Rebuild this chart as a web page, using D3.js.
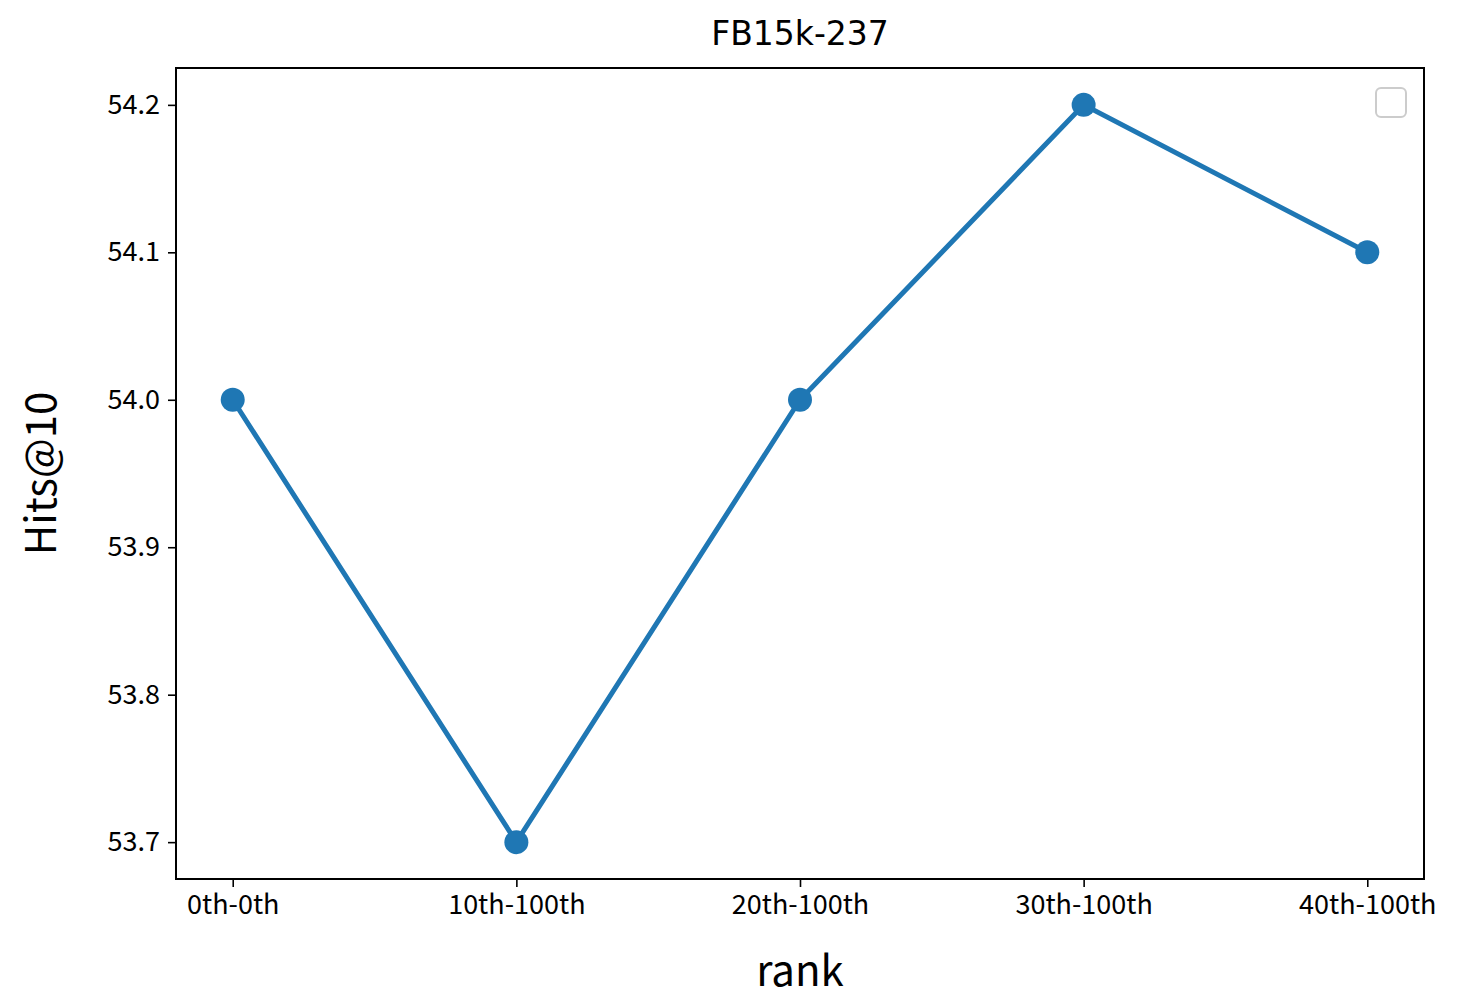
<!DOCTYPE html>
<html><head><meta charset="utf-8">
<script src="https://cdn.jsdelivr.net/npm/d3@7"></script>
<style>body{margin:0;background:#fff}</style></head>
<body><svg id="c" width="1468" height="1000"></svg>
<script>
const categories = ["0th-0th","10th-100th","20th-100th","30th-100th","40th-100th"];
const values = [54.0, 53.7, 54.0, 54.2, 54.1];
const yTicks = [53.7, 53.8, 53.9, 54.0, 54.1, 54.2];

const svg = d3.select("#c");
const L=176,R=1424,T=68,B=879;
const x = d3.scaleLinear().domain([-0.2, categories.length-1+0.2]).range([L,R]);
const y = d3.scaleLinear().domain([53.675, 54.225]).range([B,T]);
const tickFont = "'Noto Sans CJK SC', sans-serif";

const ax = svg.append("g").attr("transform",`translate(0,${B})`)
  .call(d3.axisBottom(x).tickValues(d3.range(categories.length)).tickFormat(i=>categories[i]).tickSize(8).tickPadding(8));
const ay = svg.append("g").attr("transform",`translate(${L},0)`)
  .call(d3.axisLeft(y).tickValues(yTicks).tickFormat(d3.format(".1f")).tickSize(8).tickPadding(8));
[ax,ay].forEach(g=>{g.select(".domain").remove();g.selectAll("line").attr("stroke","#000").attr("stroke-width",1.6);
  g.selectAll("text").attr("font-family",tickFont).attr("font-size",27).attr("fill","#000");});

svg.append("rect").attr("x",L).attr("y",T).attr("width",R-L).attr("height",B-T)
  .attr("fill","none").attr("stroke","#000").attr("stroke-width",2);

svg.append("path").datum(values).attr("fill","none").attr("stroke","#1f77b4").attr("stroke-width",5)
  .attr("d",d3.line().x((d,i)=>x(i)).y(d=>y(d)));
svg.selectAll("circle.p").data(values).join("circle").attr("cx",(d,i)=>x(i)).attr("cy",d=>y(d))
  .attr("r",12).attr("fill","#1f77b4");

svg.append("rect").attr("x",1376).attr("y",88).attr("width",30).attr("height",29).attr("rx",5)
  .attr("fill","#fff").attr("stroke","#ccc").attr("stroke-width",2);

svg.append("text").attr("x",(L+R)/2).attr("y",45).attr("text-anchor","middle")
  .attr("font-family","'DejaVu Sans', sans-serif").attr("font-size",33).text("FB15k-237");
svg.append("text").attr("x",(L+R)/2).attr("y",986).attr("text-anchor","middle")
  .attr("font-family",tickFont).attr("font-size",42).text("rank");
svg.append("text").attr("transform",`translate(56,${(T+B)/2}) rotate(-90)`).attr("text-anchor","middle")
  .attr("font-family",tickFont).attr("font-size",42).text("Hits@10");
</script></body></html>
